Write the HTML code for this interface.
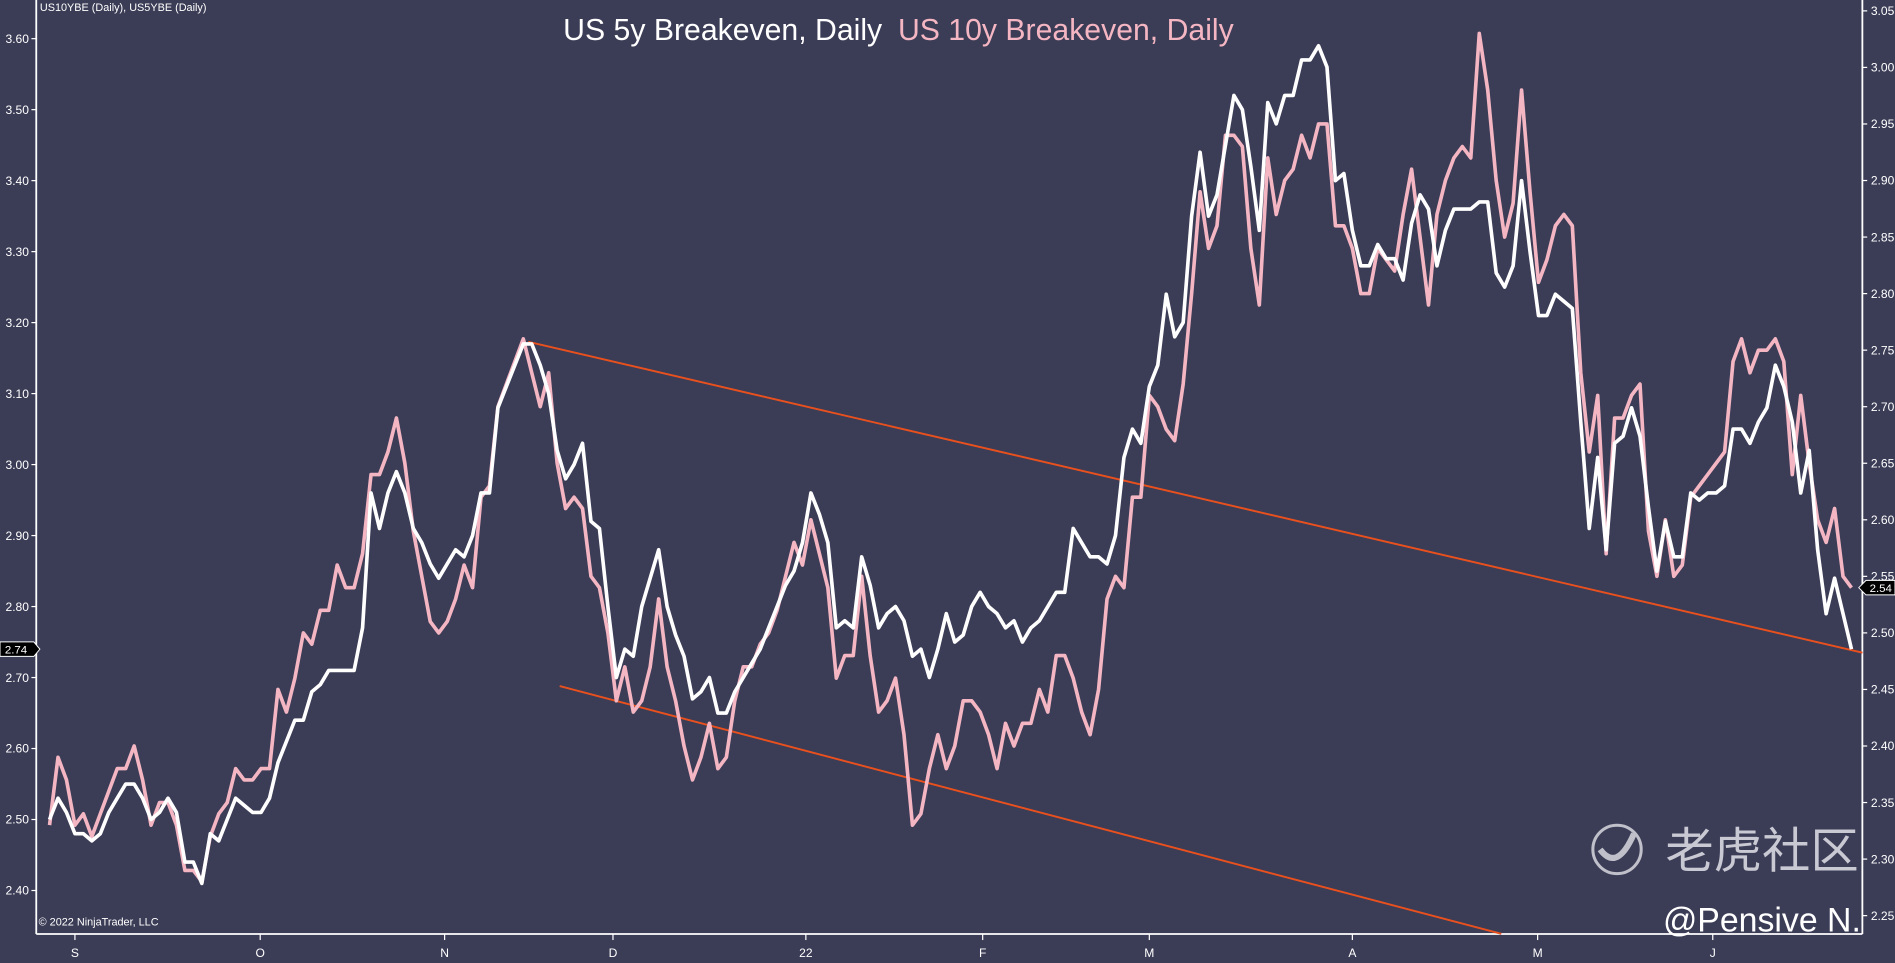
<!DOCTYPE html>
<html><head><meta charset="utf-8"><style>
html,body{margin:0;padding:0;background:#3b3c56;overflow:hidden}
svg{display:block}
text{font-family:"Liberation Sans","Noto Sans CJK SC",sans-serif}
</style></head><body>
<svg id="chart" width="1895" height="963" viewBox="0 0 1568 797" preserveAspectRatio="none" xmlns="http://www.w3.org/2000/svg">
<rect x="0" y="0" width="1568" height="797" fill="#3b3c56"/>
<text x="33" y="9" font-size="9" fill="#ffffff">US10YBE (Daily), US5YBE (Daily)</text>
<text x="466" y="33" font-size="25" fill="#ffffff">US 5y Breakeven, Daily</text>
<text x="743" y="33" font-size="25" fill="#f4b6c2">US 10y Breakeven, Daily</text>
<g id="axes"></g>
<g id="trend"></g>
<g id="series"></g>
<g id="markers"></g>
<text x="32" y="766" font-size="9" fill="#ffffff">© 2022 NinjaTrader, LLC</text>
<g opacity="0.85">
<circle cx="1338" cy="703" r="20" fill="none" stroke="#d8d8e0" stroke-width="2.5"/>
<path d="M1324 703 Q1338 722 1352 690" fill="none" stroke="#d8d8e0" stroke-width="5"/>
<text x="1378" y="718" font-size="40" fill="#e2e2ea">老虎社区</text>
</g>
<text x="1376" y="771" font-size="28" fill="#ffffff" font-family="'DejaVu Sans',sans-serif">@Pensive N.</text>
</svg>
<script>
const white5y=[2.50,2.53,2.51,2.48,2.48,2.47,2.48,2.51,2.53,2.55,2.55,2.53,2.50,2.51,2.53,2.51,2.44,2.44,2.41,2.48,2.47,2.50,2.53,2.52,2.51,2.51,2.53,2.58,2.61,2.64,2.64,2.68,2.69,2.71,2.71,2.71,2.71,2.77,2.96,2.91,2.96,2.99,2.96,2.91,2.89,2.86,2.84,2.86,2.88,2.87,2.90,2.96,2.96,3.08,3.11,3.14,3.17,3.17,3.14,3.10,3.02,2.98,3.00,3.03,2.92,2.91,2.80,2.70,2.74,2.73,2.80,2.84,2.88,2.80,2.76,2.73,2.67,2.68,2.70,2.65,2.65,2.68,2.70,2.72,2.74,2.77,2.80,2.83,2.85,2.89,2.96,2.93,2.89,2.77,2.78,2.77,2.87,2.83,2.77,2.79,2.80,2.78,2.73,2.74,2.70,2.74,2.79,2.75,2.76,2.80,2.82,2.80,2.79,2.77,2.78,2.75,2.77,2.78,2.80,2.82,2.82,2.91,2.89,2.87,2.87,2.86,2.90,3.01,3.05,3.03,3.11,3.14,3.24,3.18,3.20,3.35,3.44,3.35,3.38,3.45,3.52,3.50,3.42,3.33,3.51,3.48,3.52,3.52,3.57,3.57,3.59,3.56,3.40,3.41,3.33,3.28,3.28,3.31,3.29,3.29,3.26,3.34,3.38,3.36,3.28,3.33,3.36,3.36,3.36,3.37,3.37,3.27,3.25,3.28,3.40,3.30,3.21,3.21,3.24,3.23,3.22,3.06,2.91,3.01,2.88,3.03,3.04,3.08,3.04,2.94,2.85,2.92,2.87,2.87,2.96,2.95,2.96,2.96,2.97,3.05,3.05,3.03,3.06,3.08,3.14,3.11,3.06,2.96,3.02,2.88,2.79,2.84,2.79,2.74];
const pink10y=[2.33,2.39,2.37,2.33,2.34,2.32,2.34,2.36,2.38,2.38,2.40,2.37,2.33,2.35,2.35,2.33,2.29,2.29,2.28,2.32,2.34,2.35,2.38,2.37,2.37,2.38,2.38,2.45,2.43,2.46,2.50,2.49,2.52,2.52,2.56,2.54,2.54,2.57,2.64,2.64,2.66,2.69,2.65,2.59,2.55,2.51,2.50,2.51,2.53,2.56,2.54,2.62,2.63,2.70,2.72,2.74,2.76,2.73,2.70,2.73,2.65,2.61,2.62,2.61,2.55,2.54,2.50,2.44,2.47,2.43,2.44,2.47,2.53,2.47,2.44,2.40,2.37,2.39,2.42,2.38,2.39,2.44,2.47,2.47,2.49,2.50,2.52,2.55,2.58,2.56,2.60,2.57,2.54,2.46,2.48,2.48,2.55,2.48,2.43,2.44,2.46,2.41,2.33,2.34,2.38,2.41,2.38,2.40,2.44,2.44,2.43,2.41,2.38,2.42,2.40,2.42,2.42,2.45,2.43,2.48,2.48,2.46,2.43,2.41,2.45,2.53,2.55,2.54,2.62,2.62,2.71,2.70,2.68,2.67,2.72,2.80,2.89,2.84,2.86,2.94,2.94,2.93,2.84,2.79,2.92,2.87,2.90,2.91,2.94,2.92,2.95,2.95,2.86,2.86,2.84,2.80,2.80,2.84,2.83,2.82,2.87,2.91,2.85,2.79,2.87,2.90,2.92,2.93,2.92,3.03,2.98,2.90,2.85,2.88,2.98,2.89,2.81,2.83,2.86,2.87,2.86,2.73,2.66,2.71,2.57,2.69,2.69,2.71,2.72,2.59,2.55,2.60,2.55,2.56,2.62,2.63,2.64,2.65,2.66,2.74,2.76,2.73,2.75,2.75,2.76,2.74,2.64,2.71,2.65,2.60,2.58,2.61,2.55,2.54];
const leftTicks=[3.60,3.50,3.40,3.30,3.20,3.10,3.00,2.90,2.80,2.70,2.60,2.50,2.40];
const rightTicks=[3.05,3.00,2.95,2.90,2.85,2.80,2.75,2.70,2.65,2.60,2.55,2.50,2.45,2.40,2.35,2.30,2.25];
const monthLabels=["S","O","N","D","22","F","M","A","M","J"];
const monthIndex=[3,24.9,46.7,66.6,89.4,110.3,130,154,175.9,196.6];
const upperTrend=[[56.6,3.173],[214.3,2.735]];
const lowerTrend=[[60.3,2.688],[171.6,2.339]];

const NS="http://www.w3.org/2000/svg";
const X=i=>41+i*7;
const YL=v=>32+(3.60-v)*587.5;
const YR=v=>9+(3.05-v)*936;
function mk(tag,attrs,parent){const e=document.createElementNS(NS,tag);for(const k in attrs)e.setAttribute(k,attrs[k]);parent.appendChild(e);return e;}
const axes=document.getElementById('axes');
let a=mk('line',{x1:30,y1:0,x2:30,y2:773,stroke:'#fff','stroke-width':1.5},axes);


a=mk('line',{x1:1541,y1:0,x2:1541,y2:773,stroke:'#fff','stroke-width':1.5},axes);


a=mk('line',{x1:30,y1:773,x2:1541,y2:773,stroke:'#fff','stroke-width':1.5},axes);


leftTicks.forEach(v=>{const y=YL(v);
 const t=mk('line',{x1:26,y1:y,x2:30,y2:y,stroke:'#fff'},axes);
 
 
 const l=mk('text',{x:24,y:y+3.5,'font-size':10,fill:'#fff','text-anchor':'end'},axes);l.textContent=v.toFixed(2);
 
 });
rightTicks.forEach(v=>{const y=YR(v);
 const t=mk('line',{x1:1541,y1:y,x2:1545,y2:y,stroke:'#fff'},axes);
 
 
 const l=mk('text',{x:1548,y:y+3.5,'font-size':10,fill:'#fff'},axes);l.textContent=v.toFixed(2);
 
 });
monthLabels.forEach((m,k)=>{const x=X(monthIndex[k]);
 const t=mk('line',{x1:x,y1:773,x2:x,y2:778,stroke:'#fff'},axes);
 
 
 const l=mk('text',{x:x,y:792,'font-size':10,fill:'#fff','text-anchor':'middle'},axes);l.textContent=m;
 
 });
const trend=document.getElementById('trend');
[upperTrend,lowerTrend].forEach((tl,k)=>{
 const l=mk('line',{x1:X(tl[0][0]),y1:YL(tl[0][1]),x2:X(tl[1][0]),y2:YL(tl[1][1]),stroke:'#e8501e','stroke-width':1.6},trend);
 
 });
const series=document.getElementById('series');
let p=mk('polyline',{points:pink10y.map((v,i)=>X(i)+','+YR(v)).join(' '),fill:'none',stroke:'#f4b6c2','stroke-width':3,'stroke-linejoin':'round'},series);


p=mk('polyline',{points:white5y.map((v,i)=>X(i)+','+YL(v)).join(' '),fill:'none',stroke:'#ffffff','stroke-width':3,'stroke-linejoin':'round'},series);


const mg=document.getElementById('markers');
const lv=white5y[white5y.length-1],ly=YL(lv);
let m=mk('path',{d:`M0 ${ly-6}H28L33 ${ly}L28 ${ly+6}H0Z`,fill:'#000',stroke:'#fff','stroke-width':0.8},mg);


let mt=mk('text',{x:4,y:ly+3.5,'font-size':9.5,fill:'#fff'},mg);mt.textContent=lv.toFixed(2);


const rv=pink10y[pink10y.length-1],ry=YR(rv);
m=mk('path',{d:`M1538 ${ry}L1544 ${ry-6}H1568V${ry+6}H1544Z`,fill:'#000',stroke:'#fff','stroke-width':0.8},mg);


mt=mk('text',{x:1547,y:ry+3.5,'font-size':9.5,fill:'#fff'},mg);mt.textContent=rv.toFixed(2);


</script>
</body></html>
